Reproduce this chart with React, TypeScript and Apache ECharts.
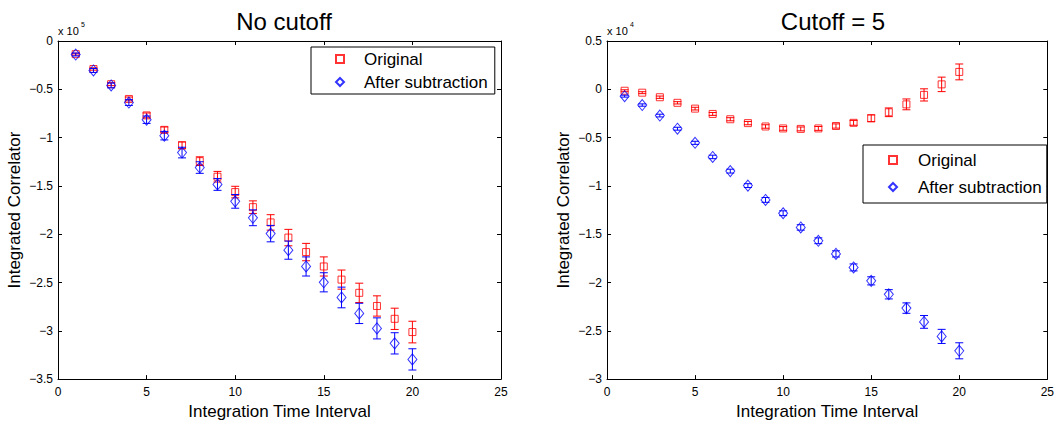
import React, { useEffect, useRef } from 'react';
import * as echarts from 'echarts';

// Integration time interval (x)
const xValues = [1, 2, 3, 4, 5, 6, 7, 8, 9, 10, 11, 12, 13, 14, 15, 16, 17, 18, 19, 20];

// Left panel "No cutoff" (values in units of 10^5)
const leftOriginal = [-0.136, -0.29, -0.447, -0.6, -0.77, -0.92, -1.08, -1.244, -1.405, -1.564, -1.72, -1.878, -2.035, -2.185, -2.334, -2.47, -2.607, -2.743, -2.876, -3.013];
const leftOriginalErr = [0.01, 0.012, 0.015, 0.02, 0.025, 0.03, 0.035, 0.045, 0.055, 0.06, 0.065, 0.08, 0.085, 0.09, 0.099, 0.099, 0.1, 0.105, 0.11, 0.112];
const leftAfter = [-0.14, -0.305, -0.46, -0.637, -0.815, -0.98, -1.155, -1.31, -1.485, -1.66, -1.83, -1.994, -2.165, -2.334, -2.498, -2.655, -2.82, -2.975, -3.13, -3.296];
const leftAfterErr = [0.015, 0.02, 0.025, 0.03, 0.038, 0.044, 0.055, 0.06, 0.061, 0.071, 0.082, 0.085, 0.094, 0.099, 0.099, 0.107, 0.105, 0.109, 0.11, 0.11];

// Right panel "Cutoff = 5" (values in units of 10^4)
const rightOriginal = [-0.015, -0.035, -0.082, -0.14, -0.2, -0.255, -0.31, -0.35, -0.385, -0.405, -0.41, -0.405, -0.38, -0.347, -0.3, -0.238, -0.156, -0.058, 0.051, 0.18];
const rightOriginalErr = [0.01, 0.01, 0.012, 0.012, 0.014, 0.015, 0.016, 0.017, 0.018, 0.019, 0.02, 0.02, 0.022, 0.025, 0.035, 0.045, 0.056, 0.063, 0.075, 0.082];
const rightAfter = [-0.071, -0.163, -0.272, -0.408, -0.554, -0.7, -0.847, -0.997, -1.145, -1.283, -1.43, -1.568, -1.704, -1.844, -1.983, -2.122, -2.265, -2.408, -2.558, -2.707];
const rightAfterErr = [0.01, 0.012, 0.014, 0.015, 0.016, 0.018, 0.02, 0.02, 0.025, 0.025, 0.028, 0.03, 0.032, 0.036, 0.042, 0.048, 0.054, 0.066, 0.073, 0.083];

const titles = ['No cutoff', 'Cutoff = 5'];
const seriesNames = ['Original', 'After subtraction'];
const xAxisName = 'Integration Time Interval';
const yAxisName = 'Integrated Correlator';
const exponents = ['5', '4'];

const RED = '#ff0000';
const BLUE = '#0000ff';
const FONT = '"Liberation Sans", Arial, Helvetica, sans-serif';

const fmt = (v: number) => {
  const s = String(Math.round(v * 1000) / 1000);
  return s.replace('-', '\u2212');
};

const errRender = (color: string) => (params: any, api: any) => {
  const x = api.value(0);
  const y = api.value(1);
  const e = api.value(2);
  const top = api.coord([x, y + e]);
  const bot = api.coord([x, y - e]);
  const w = 4;
  const style = { stroke: color, lineWidth: 1, fill: 'none' };
  return {
    type: 'group',
    children: [
      { type: 'line', shape: { x1: top[0], y1: top[1], x2: bot[0], y2: bot[1] }, style },
      { type: 'line', shape: { x1: top[0] - w, y1: top[1], x2: top[0] + w, y2: top[1] }, style },
      { type: 'line', shape: { x1: bot[0] - w, y1: bot[1], x2: bot[0] + w, y2: bot[1] }, style },
    ],
  };
};

const pack = (vals: number[], errs: number[]) => xValues.map((x, i) => [x, vals[i], errs[i]]);
const pts = (vals: number[]) => xValues.map((x, i) => [x, vals[i]]);

export default function App() {
  const ref = useRef<HTMLDivElement>(null);
  useEffect(() => {
    if (!ref.current) return;
    const chart = echarts.init(ref.current, undefined, { renderer: 'svg' });

    const grids = [
      { left: 58, top: 41, width: 443, height: 344 },
      { left: 607, top: 41, width: 442, height: 344 },
    ];
    const yRanges = [
      { min: -3.5, max: 0 },
      { min: -3, max: 0.5 },
    ];

    const axisLine = { show: true, onZero: false, lineStyle: { color: '#000', width: 1 } };
    const axisTick = { show: true, inside: true, length: 4, lineStyle: { color: '#000' } };

    const xAxis: any[] = [];
    const yAxis: any[] = [];
    [0, 1].forEach((g) => {
      xAxis.push({
        type: 'value', gridIndex: g, min: 0, max: 25, interval: 5, position: 'bottom',
        axisLine, axisTick, splitLine: { show: false },
        axisLabel: { color: '#000', fontSize: 12, fontFamily: FONT, margin: 7, formatter: fmt, showMinLabel: true, showMaxLabel: true },
        name: xAxisName, nameLocation: 'middle', nameGap: 19,
        nameTextStyle: { color: '#000', fontSize: 17, fontFamily: FONT },
      });
      xAxis.push({
        type: 'value', gridIndex: g, min: 0, max: 25, interval: 5, position: 'top',
        axisLine, axisTick, splitLine: { show: false }, axisLabel: { show: false },
      });
      yAxis.push({
        type: 'value', gridIndex: g, min: yRanges[g].min, max: yRanges[g].max, interval: 0.5, position: 'left',
        axisLine, axisTick, splitLine: { show: false },
        axisLabel: { color: '#000', fontSize: 12, fontFamily: FONT, margin: 5, formatter: fmt, showMinLabel: true, showMaxLabel: true },
        name: yAxisName, nameLocation: 'middle', nameGap: 35, nameRotate: 90,
        nameTextStyle: { color: '#000', fontSize: 17, fontFamily: FONT },
      });
      yAxis.push({
        type: 'value', gridIndex: g, min: yRanges[g].min, max: yRanges[g].max, interval: 0.5, position: 'right',
        axisLine, axisTick, splitLine: { show: false }, axisLabel: { show: false },
      });
    });

    const panels = [
      { orig: leftOriginal, origErr: leftOriginalErr, after: leftAfter, afterErr: leftAfterErr },
      { orig: rightOriginal, origErr: rightOriginalErr, after: rightAfter, afterErr: rightAfterErr },
    ];

    const series: any[] = [];
    panels.forEach((p, g) => {
      const xi = g * 2;
      const yi = g * 2;
      series.push({
        type: 'custom', name: 'err-orig-' + g, xAxisIndex: xi, yAxisIndex: yi,
        renderItem: errRender(RED), data: pack(p.orig, p.origErr), encode: { x: 0, y: 1 }, z: 2, silent: true,
      });
      series.push({
        type: 'scatter', name: seriesNames[0], xAxisIndex: xi, yAxisIndex: yi,
        symbol: 'rect', symbolSize: 7,
        itemStyle: { color: 'rgba(0,0,0,0)', borderColor: RED, borderWidth: 1 },
        data: pts(p.orig), z: 3,
      });
      series.push({
        type: 'custom', name: 'err-after-' + g, xAxisIndex: xi, yAxisIndex: yi,
        renderItem: errRender(BLUE), data: pack(p.after, p.afterErr), encode: { x: 0, y: 1 }, z: 4, silent: true,
      });
      series.push({
        type: 'scatter', name: seriesNames[1], xAxisIndex: xi, yAxisIndex: yi,
        symbol: 'diamond', symbolSize: [9, 11],
        itemStyle: { color: 'rgba(0,0,0,0)', borderColor: BLUE, borderWidth: 1 },
        data: pts(p.after), z: 5,
      });
    });

    const legendBase = {
      orient: 'vertical', data: seriesNames, backgroundColor: '#fff', borderColor: '#000', borderWidth: 1,
      itemWidth: 8, itemHeight: 8, selectedMode: false,
    };

    chart.setOption({
      animation: false,
      backgroundColor: '#fff',
      textStyle: { fontFamily: FONT },
      title: [
        { text: titles[0], left: 279, top: 4, textAlign: 'center', textStyle: { fontSize: 24, fontWeight: 'normal', color: '#000', fontFamily: FONT } },
        { text: titles[1], left: 828, top: 4, textAlign: 'center', textStyle: { fontSize: 24, fontWeight: 'normal', color: '#000', fontFamily: FONT } },
      ],
      legend: [
        {
          ...legendBase, left: 311, top: 47, padding: [3.5, 7, 3.5, 24], itemGap: 6,
          textStyle: { color: '#000', fontSize: 17, fontFamily: FONT, padding: [0, 0, 0, 15] },
        },
        {
          ...legendBase, left: 863, top: 145, padding: [6.5, 5, 7.5, 25], itemGap: 10,
          textStyle: { color: '#000', fontSize: 17, fontFamily: FONT, padding: [0, 0, 0, 16] },
        },
      ],
      grid: grids,
      xAxis,
      yAxis,
      series,
      graphic: [
        { type: 'text', left: 58, top: 25, style: { text: 'x 10', fontSize: 11, fill: '#000', fontFamily: FONT } },
        { type: 'text', left: 81, top: 21, style: { text: exponents[0], fontSize: 7, fill: '#000', fontFamily: FONT } },
        { type: 'text', left: 607, top: 25, style: { text: 'x 10', fontSize: 11, fill: '#000', fontFamily: FONT } },
        { type: 'text', left: 630, top: 21, style: { text: exponents[1], fontSize: 7, fill: '#000', fontFamily: FONT } },
      ],
    });
    return () => chart.dispose();
  }, []);
  return (
    <div
      ref={ref}
      style={{ position: 'absolute', left: 0, top: 0, width: 1057, height: 425, background: '#fff' }}
    />
  );
}
